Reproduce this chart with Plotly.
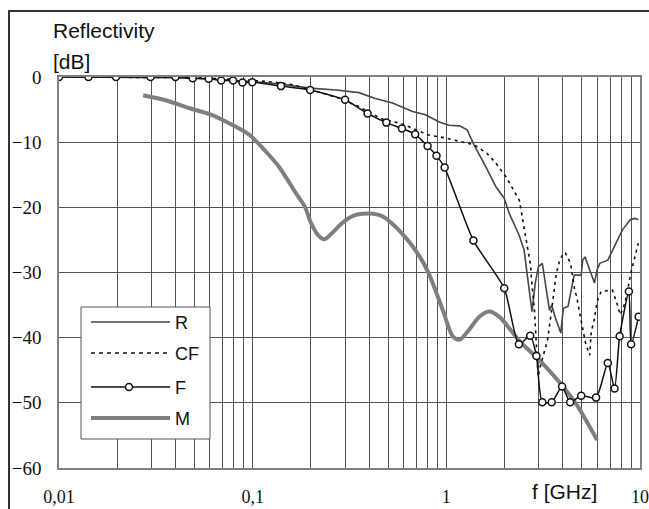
import plotly.graph_objects as go

# ---------------- data ----------------
x_R = [0.01, 0.02, 0.03, 0.04, 0.05, 0.07, 0.1, 0.14, 0.197, 0.27, 0.354, 0.43, 0.527, 0.67, 0.78,
       0.92, 1.03, 1.17, 1.28, 1.33, 1.39, 1.6, 1.8, 1.99, 2.11, 2.37, 2.52, 2.61, 2.77, 2.88, 2.99,
       3.13, 3.2, 3.41, 3.5, 3.64, 3.9, 4.02, 4.25, 4.48, 4.57, 4.97, 5.06, 5.2, 5.48, 5.82, 6.0,
       6.2, 6.82, 7.5, 8.1, 8.9, 9.4, 9.8]
y_R = [0, 0, 0, -0.1, -0.2, -0.4, -0.7, -1.1, -1.7, -2.0, -2.4, -3.3, -4.0, -5.3, -5.8,
       -6.9, -7.4, -7.5, -8.1, -9.2, -10.4, -13.8, -16.8, -18.6, -20.9, -24.2, -26.5, -30.1, -36.0, -31.6, -29.1,
       -28.6, -30.6, -35.8, -35.0, -36.8, -39.3, -35.5, -35.2, -31.6, -30.4, -30.4, -28.1, -27.6, -29.6, -31.6, -29.6,
       -28.6, -28.1, -25.5, -23.5, -21.9, -21.7, -21.9]

x_CF = [0.01, 0.02, 0.03, 0.04, 0.05, 0.07, 0.1, 0.14, 0.161, 0.23, 0.27, 0.35, 0.47, 0.58, 0.81,
        0.97, 1.19, 1.39, 1.62, 1.80, 2.03, 2.2, 2.38, 2.45, 2.56, 2.66, 2.72, 2.75, 2.79, 2.86,
        2.88, 2.94, 2.98, 3.05, 3.2, 3.33, 3.46, 3.6, 3.7, 3.84, 4.02, 4.12, 4.38, 4.57, 4.73,
        4.85, 4.97, 5.24, 5.5, 5.6, 5.8, 6.0, 6.3, 7.2, 7.6, 7.9, 8.2, 8.5, 9.0, 9.3, 9.6, 9.8]
y_CF = [0, 0, 0, 0, -0.1, -0.3, -0.5, -0.9, -1.2, -2.5, -3.1, -4.5, -6.5, -7.1, -8.9,
        -9.3, -9.9, -10.4, -11.7, -13.2, -15.3, -17.1, -18.9, -21.0, -24.5, -27.3, -28.8, -30.9, -32.7, -36.3,
        -38.1, -43.0, -46.0, -44.5, -42.0, -40.4, -36.8, -33.2, -30.1, -28.3, -27.0, -27.0, -28.6, -32.2, -34.0,
        -35.8, -37.6, -40.9, -42.7, -39.1, -37.3, -34.5, -32.9, -32.7, -34.7, -36.5, -35.5, -33.7, -29.9, -28.1, -26.3, -25.5]

x_F = [0.01, 0.0142, 0.0197, 0.0297, 0.0399, 0.049, 0.0593, 0.0688, 0.0792, 0.0886, 0.0995, 0.14,
       0.198, 0.30, 0.392, 0.49, 0.59, 0.69, 0.80, 0.89, 0.98, 1.38, 1.99, 2.37, 2.71, 2.92, 3.13,
       3.50, 3.96, 4.36, 4.97, 5.93, 6.82, 7.39, 7.85, 8.76, 9.0, 9.84]
y_F = [0, 0, 0, 0, 0, -0.2, -0.25, -0.55, -0.55, -0.85, -0.8, -1.4,
       -2.0, -3.5, -5.6, -7.0, -7.9, -8.8, -10.6, -12.1, -13.9, -25.1, -32.4, -41.0, -39.7, -42.8, -49.9,
       -49.9, -47.5, -49.9, -48.9, -49.2, -43.9, -47.8, -39.8, -32.9, -41.0, -36.8]

x_M = [0.0272, 0.0359, 0.0473, 0.060, 0.079, 0.0965, 0.115, 0.137, 0.167, 0.186, 0.20, 0.218, 0.235,
       0.26, 0.29, 0.33, 0.37, 0.42, 0.47, 0.59, 0.73, 0.81, 0.96, 1.08, 1.17, 1.31, 1.48, 1.66, 1.88,
       2.37, 3.13, 3.8, 4.66, 6.0]
y_M = [-2.8, -3.6, -4.8, -5.7, -7.4, -8.9, -11.2, -13.8, -17.8, -19.9, -22.4, -24.3, -24.9,
       -23.8, -22.4, -21.3, -21.0, -21.0, -21.4, -24.0, -27.6, -30.1, -35.8, -39.8, -40.3, -38.8, -36.8, -36.0, -36.8,
       -40.4, -43.9, -46.7, -50.1, -55.7]

series_names = ["R", "CF", "F", "M"]
x_tick_values = [m * 10 ** k for k in (-2, -1, 0) for m in range(1, 10)] + [10]
x_tick_labels = {0.01: "0,01", 0.1: "0,1", 1: "1", 10: "10"}
y_tick_values = [-60, -50, -40, -30, -20, -10, 0]

# ---------------- figure ----------------
fig = go.Figure()
fig.add_trace(go.Scatter(x=x_M, y=y_M, mode="lines", name="M",
                         line=dict(color="#7f7f7f", width=4, shape="spline", smoothing=0.8)))
fig.add_trace(go.Scatter(x=x_R, y=y_R, mode="lines", name="R",
                         line=dict(color="#474747", width=1.6)))
fig.add_trace(go.Scatter(x=x_CF, y=y_CF, mode="lines", name="CF",
                         line=dict(color="#111111", width=1.6, dash="3px,4px")))
fig.add_trace(go.Scatter(x=x_F, y=y_F, mode="lines+markers", name="F",
                         line=dict(color="#111111", width=1.5, shape="spline", smoothing=0.6),
                         marker=dict(symbol="circle", size=7, color="white",
                                     line=dict(color="#111111", width=1.5))))

ticktext = []
for v in x_tick_values:
    lab = ""
    for kk, tt in x_tick_labels.items():
        if abs(kk - v) < 1e-9:
            lab = tt
    ticktext.append(lab)

serif = "Liberation Serif"
sans = "Liberation Sans"

fig.update_layout(
    width=649, height=509,
    margin=dict(l=59, r=9, t=77, b=41),
    paper_bgcolor="white", plot_bgcolor="white",
    showlegend=False,
    xaxis=dict(type="log", range=[-2, 1], tickmode="array",
               tickvals=x_tick_values, ticktext=ticktext, automargin=False,
               showgrid=True, gridcolor="#555555", gridwidth=1,
               showline=True, linecolor="#808080", linewidth=1.5, mirror=True,
               ticks="", ticklabelstandoff=12, zeroline=False,
               tickfont=dict(family=serif, size=18, color="#111")),
    yaxis=dict(range=[-60, 0], tickmode="array", tickvals=y_tick_values, automargin=False,
               showgrid=True, gridcolor="#555555", gridwidth=1,
               showline=True, linecolor="#808080", linewidth=1.5, mirror=True,
               ticks="", ticklabelstandoff=12, zeroline=False,
               tickfont=dict(family=serif, size=19, color="#111")),
)

W, H = 581.0, 391.0
def px(xp):
    return (xp - 59) / W
def py(yp):
    return (468 - yp) / H

shapes = []
# outer frame
shapes.append(dict(type="rect", xref="paper", yref="paper", x0=px(9), x1=px(660), y0=py(530), y1=py(11),
                   line=dict(color="#333", width=2), layer="above"))
# legend box
shapes.append(dict(type="rect", xref="paper", yref="paper", x0=px(81), x1=px(210), y0=py(439), y1=py(307),
                   line=dict(color="#555", width=1), fillcolor="white", layer="above"))
rows = [322, 353, 387, 418]
styles = [dict(color="#474747", width=1.6),
          dict(color="#111111", width=1.6, dash="4px,4px"),
          dict(color="#111111", width=1.5),
          dict(color="#7f7f7f", width=4)]
for r, st in zip(rows, styles):
    shapes.append(dict(type="line", xref="paper", yref="paper", x0=px(91), x1=px(170), y0=py(r), y1=py(r),
                       line=st, layer="above"))
shapes.append(dict(type="circle", xref="paper", yref="paper", xsizemode="pixel", ysizemode="pixel",
                   xanchor=px(129), yanchor=py(387), x0=-3.5, x1=3.5, y0=-3.5, y1=3.5,
                   line=dict(color="#111", width=1.5), fillcolor="white", layer="above"))
fig.update_layout(shapes=shapes)

annotations = []
for r, nm in zip(rows, series_names):
    annotations.append(dict(text=nm, xref="paper", yref="paper", x=px(173), y=py(r + 1),
                            xanchor="left", yanchor="middle", showarrow=False,
                            font=dict(family=sans, size=18, color="#111")))
annotations.append(dict(text="Reflectivity", xref="paper", yref="paper", x=px(51), y=py(31),
                        xanchor="left", yanchor="middle", showarrow=False,
                        font=dict(family=sans, size=21, color="#111")))
annotations.append(dict(text="[dB]", xref="paper", yref="paper", x=px(51), y=py(62),
                        xanchor="left", yanchor="middle", showarrow=False,
                        font=dict(family=sans, size=21, color="#111")))
annotations.append(dict(text="f [GHz]", xref="paper", yref="paper", x=px(530), y=py(491),
                        xanchor="left", yanchor="middle", showarrow=False,
                        font=dict(family=sans, size=21, color="#111")))
fig.update_layout(annotations=annotations)

fig.write_html("out.html")
